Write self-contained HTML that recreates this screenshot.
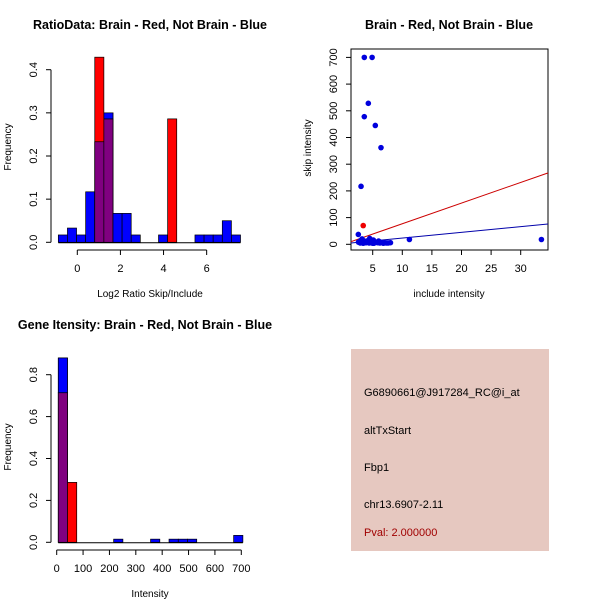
<!DOCTYPE html>
<html><head><meta charset="utf-8"><style>
body{margin:0;background:#fff;}
svg{display:block;font-family:"Liberation Sans",sans-serif;}
</style></head><body>
<svg id="c" width="600" height="600" xmlns="http://www.w3.org/2000/svg">
<rect width="600" height="600" fill="#fff"/>
<rect x="351" y="349" width="198" height="202" fill="#e6c8c0"/>
<g font-size="11" fill="#000">
<text x="364" y="396">G6890661@J917284_RC@i_at</text>
<text x="364" y="434">altTxStart</text>
<text x="364" y="471">Fbp1</text>
<text x="364" y="508">chr13.6907-2.11</text>
<text x="364" y="536" fill="#a00000">Pval: 2.000000</text>
</g>
</svg>
<script>
// ---- Histogram 1 data ----
const h1Start=-0.88, h1Width=0.4225;
const h1Blue=[0.017,0.033,0.017,0.117,0.233,0.3,0.067,0.067,0.017,0,0,0.017,0,0,0,0.017,0.017,0.017,0.05,0.017];
const h1Red=[0,0,0,0,0.429,0.286,0,0,0,0,0,0,0.286,0,0,0,0,0,0,0];
const h1YTicks=[0,0.1,0.2,0.3,0.4];
const h1XTicks=[0,2,4,6];
// ---- Histogram 2 data ----
const h2Start=6, h2Width=35;
const h2Blue=[0.88,0,0,0,0,0,0.015,0,0,0,0.015,0,0.015,0.015,0.015,0,0,0,0,0.033];
const h2Red=[0.714,0.286,0,0,0,0,0,0,0,0,0,0,0,0,0,0,0,0,0,0];
const h2YTicks=[0,0.2,0.4,0.6,0.8];
const h2XTicks=[0,100,200,300,400,500,600,700];
// ---- Scatter data ----
const scX=[3.58,4.9,4.26,3.58,5.44,6.4,3.03,2.57,33.5,11.2,2.8,3.0,3.3,3.6,3.9,4.2,4.5,4.8,5.1,5.5,6.0,6.5,7.0,7.6,8.0,4.6,3.2,5.2,2.6,2.9,3.4,3.8,4.0,4.4,4.7,5.0,5.8,6.2,6.8,7.3];
const scY=[700,700,528,478,445,362,217,37,18,18,10,15,8,12,6,14,22,10,16,8,12,7,6,5,6,18,20,4,8,5,4,6,9,5,7,4,6,5,4,5];
const scRedX=[3.4];
const scRedY=[70];
const scXTicks=[5,10,15,20,25,30];
const scYTicks=[0,100,200,300,400,500,600,700];
const redLine=[1.33,10,34.7,268];
const blueLine=[1.33,5,34.7,76];

const svg=document.getElementById('c');
const NS='http://www.w3.org/2000/svg';
function mk(tag,attrs,parent){const e=document.createElementNS(NS,tag);for(const k in attrs)e.setAttribute(k,attrs[k]);(parent||svg).appendChild(e);return e;}
function txt(x,y,s,opts,parent){const t=mk('text',Object.assign({x:x,y:y,'font-size':11,'text-anchor':'middle'},opts||{}),parent);t.textContent=s;return t;}

function hist(o){
  const g=mk('g',{});
  
  
  const X=v=>o.x0+(v-o.xv0)*o.xs, Y=v=>o.y0-v*o.ys;
  for(let i=0;i<o.blue.length;i++){
    const a=o.start+i*o.w, x=X(a), w=o.w*o.xs;
    const b=o.blue[i], r=o.red[i], m=Math.min(b,r);
    if(b>0){const e=mk('rect',{x:x,y:Y(b),width:w,height:Y(0)-Y(b),fill:'#0000ff',stroke:'#000','stroke-width':0.7},g);
      }
    if(r>0){const e=mk('rect',{x:x,y:Y(r),width:w,height:Y(0)-Y(r),fill:'#ff0000',stroke:'#000','stroke-width':0.7},g);
      }
    if(m>0){const e=mk('rect',{x:x,y:Y(m),width:w,height:Y(0)-Y(m),fill:'#800080',stroke:'#000','stroke-width':0.7},g);
      
      if(b>r){const e2=mk('rect',{x:x,y:Y(b),width:w,height:Y(m)-Y(b),fill:'#0000ff',stroke:'#000','stroke-width':0.7},g);
        }
    }
  }
  const baseL=X(o.start), baseR=X(o.start+o.blue.length*o.w);
  mk('line',{x1:baseL,x2:baseR,y1:Y(0)+0.5,y2:Y(0)+0.5,stroke:'#000'},g);
  const yt=o.yt;
  mk('line',{x1:o.yax,x2:o.yax,y1:Y(yt[0]),y2:Y(yt[yt.length-1]),stroke:'#000'},g);
  yt.forEach(v=>{mk('line',{x1:o.yax-5,x2:o.yax,y1:Y(v),y2:Y(v),stroke:'#000'},g);
    const t=txt(0,0,v.toFixed(1),{transform:`translate(${o.yax-14},${Y(v)}) rotate(-90)`},g);
    });
  const xt=o.xt;
  mk('line',{x1:X(xt[0]),x2:X(xt[xt.length-1]),y1:o.xax,y2:o.xax,stroke:'#000'},g);
  xt.forEach(v=>{mk('line',{x1:X(v),x2:X(v),y1:o.xax,y2:o.xax+5,stroke:'#000'},g);
    const t=txt(X(v),o.xax+22,String(v),{},g);
    });
  let t=txt(o.tx,o.ty,o.title,{'font-weight':'bold','font-size':12.5},g);
  
  t=txt(150,o.xlY,o.xlab,{'font-size':10},g);
  
  t=txt(0,0,'Frequency',{'font-size':10,transform:`translate(11,${o.ylY}) rotate(-90)`},g);
  
}
hist({name:'ratio-histogram',start:h1Start,w:h1Width,blue:h1Blue,red:h1Red,x0:77.3,xv0:0,xs:21.56,y0:242.3,ys:431.5,
  yt:h1YTicks,xt:h1XTicks,yax:51,xax:250,title:'RatioData: Brain - Red, Not Brain - Blue',tx:150,ty:29,xlab:'Log2 Ratio Skip/Include',xlY:297,ylY:147});
hist({name:'intensity-histogram',start:h2Start,w:h2Width,blue:h2Blue,red:h2Red,x0:56.7,xv0:0,xs:0.2637,y0:542.3,ys:209.5,
  yt:h2YTicks,xt:h2XTicks,yax:51,xax:550,title:'Gene Itensity: Brain - Red, Not Brain - Blue',tx:145,ty:329,xlab:'Intensity',xlY:597,ylY:447});

(function(){
  const g=mk('g',{});
  
  
  const X=v=>372.7+(v-5)*5.92, Y=v=>244.3-v*0.267;
  const box=mk('rect',{x:351,y:49,width:197,height:201,fill:'none',stroke:'#000'},g);
  
  const cp=mk('clipPath',{id:'cp'},g);mk('rect',{x:351,y:49,width:197,height:201},cp);
  let l=mk('line',{x1:X(redLine[0]),y1:Y(redLine[1]),x2:X(redLine[2]),y2:Y(redLine[3]),stroke:'#cc0000','clip-path':'url(#cp)'},g);
  
  l=mk('line',{x1:X(blueLine[0]),y1:Y(blueLine[1]),x2:X(blueLine[2]),y2:Y(blueLine[3]),stroke:'#0000aa','clip-path':'url(#cp)'},g);
  
  scX.forEach((v,i)=>{const c=mk('circle',{cx:X(v),cy:Y(scY[i]),r:2.8,fill:'#0000dd'},g);
    });
  scRedX.forEach((v,i)=>{const c=mk('circle',{cx:X(v),cy:Y(scRedY[i]),r:2.8,fill:'#ee0000'},g);
    });
  scXTicks.forEach(v=>{mk('line',{x1:X(v),x2:X(v),y1:250,y2:255,stroke:'#000'},g);
    const t=txt(X(v),272,String(v),{},g);});
  scYTicks.forEach(v=>{mk('line',{x1:346,x2:351,y1:Y(v),y2:Y(v),stroke:'#000'},g);
    const t=txt(0,0,String(v),{transform:`translate(337,${Y(v)}) rotate(-90)`},g);});
  let t=txt(449,29,'Brain - Red, Not Brain - Blue',{'font-weight':'bold','font-size':12.5},g);
  
  t=txt(449,297,'include intensity',{'font-size':10},g);
  
  t=txt(0,0,'skip intensity',{'font-size':10,transform:'translate(311,148) rotate(-90)'},g);
  
})();
</script>
</body></html>
